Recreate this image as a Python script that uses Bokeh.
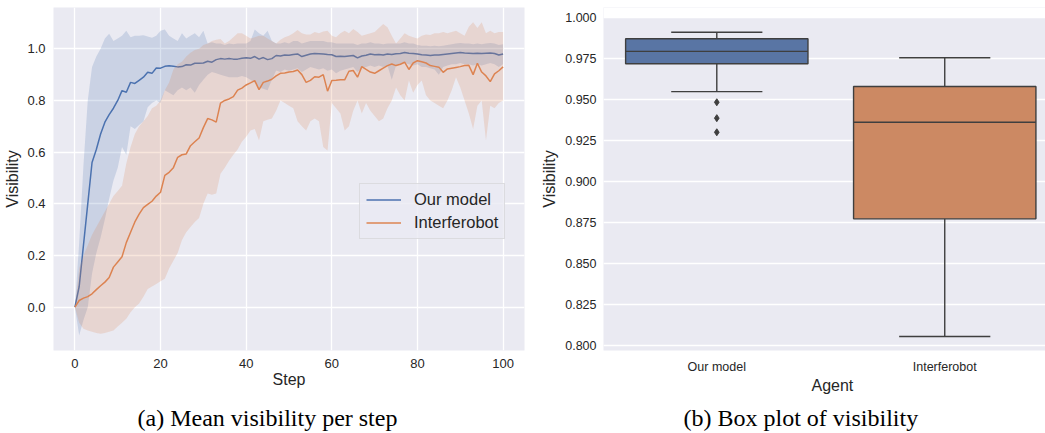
from bokeh.plotting import figure
from bokeh.models import (Range1d, FixedTicker, PrintfTickFormatter, Legend,
                          LegendItem, Title, ColumnDataSource, BoxAnnotation)
from bokeh.core.properties import value
from bokeh.layouts import row, column
from bokeh.embed import file_html
from bokeh.resources import INLINE

# ---------------- data: left panel (mean visibility per step) ----------------
steps = list(range(0, 101))

our_mean = [0.000, 0.080, 0.240, 0.400, 0.560, 0.610, 0.670, 0.716, 0.745, 0.770,
            0.800, 0.838, 0.832, 0.870, 0.866, 0.878, 0.890, 0.909, 0.905, 0.926,
            0.925, 0.932, 0.934, 0.932, 0.930, 0.931, 0.938, 0.937, 0.944, 0.944,
            0.945, 0.952, 0.948, 0.958, 0.962, 0.960, 0.962, 0.960, 0.960, 0.963,
            0.965, 0.963, 0.970, 0.960, 0.966, 0.958, 0.962, 0.974, 0.972, 0.976,
            0.975, 0.978, 0.980, 0.970, 0.975, 0.980, 0.982, 0.981, 0.980, 0.978,
            0.977, 0.970, 0.971, 0.970, 0.972, 0.974, 0.965, 0.972, 0.975, 0.980,
            0.977, 0.978, 0.976, 0.980, 0.978, 0.981, 0.982, 0.986, 0.983, 0.982,
            0.980, 0.977, 0.976, 0.974, 0.976, 0.976, 0.978, 0.980, 0.982, 0.984,
            0.986, 0.984, 0.983, 0.982, 0.983, 0.982, 0.983, 0.984, 0.982, 0.976,
            0.980]
our_upper = [0.000, 0.250, 0.550, 0.800, 0.930, 0.970, 1.000, 1.040, 1.058, 1.030,
             1.040, 1.050, 1.070, 1.045, 1.050, 1.050, 1.052, 1.048, 1.043, 1.050,
             1.070, 1.075, 1.050, 1.040, 1.030, 1.060, 1.040, 1.050, 1.060, 1.045,
             1.070, 1.020, 1.025, 1.020, 1.020, 1.015, 1.020, 1.018, 1.020, 1.020,
             1.020, 1.030, 1.075, 1.060, 1.050, 1.070, 1.030, 1.020, 1.020, 1.025,
             1.020, 1.030, 1.030, 1.020, 1.025, 1.030, 1.030, 1.030, 1.030, 1.025,
             1.025, 1.020, 1.020, 1.020, 1.020, 1.020, 1.015, 1.020, 1.020, 1.025,
             1.020, 1.020, 1.018, 1.020, 1.020, 1.020, 1.020, 1.025, 1.020, 1.020,
             1.015, 1.012, 1.012, 1.010, 1.012, 1.010, 1.012, 1.015, 1.018, 1.020,
             1.022, 1.020, 1.020, 1.018, 1.020, 1.018, 1.020, 1.022, 1.020, 1.015,
             1.018]
our_lower = [0.000, -0.110, -0.050, 0.000, 0.130, 0.210, 0.270, 0.340, 0.420, 0.490,
             0.540, 0.620, 0.590, 0.700, 0.690, 0.705, 0.720, 0.774, 0.790, 0.800,
             0.790, 0.840, 0.830, 0.820, 0.840, 0.850, 0.840, 0.850, 0.830, 0.860,
             0.880, 0.900, 0.910, 0.905, 0.900, 0.895, 0.890, 0.890, 0.890, 0.895,
             0.890, 0.880, 0.870, 0.850, 0.845, 0.840, 0.880, 0.916, 0.910, 0.920,
             0.915, 0.920, 0.925, 0.910, 0.920, 0.930, 0.925, 0.920, 0.925, 0.915,
             0.920, 0.905, 0.915, 0.920, 0.925, 0.930, 0.910, 0.925, 0.930, 0.935,
             0.930, 0.935, 0.930, 0.935, 0.880, 0.935, 0.940, 0.945, 0.940, 0.935,
             0.940, 0.930, 0.930, 0.925, 0.920, 0.900, 0.930, 0.935, 0.940, 0.940,
             0.945, 0.940, 0.940, 0.935, 0.940, 0.935, 0.940, 0.945, 0.940, 0.930,
             0.940]

int_mean = [0.000, 0.026, 0.035, 0.041, 0.052, 0.068, 0.083, 0.097, 0.115, 0.155,
            0.175, 0.195, 0.250, 0.290, 0.330, 0.360, 0.385, 0.398, 0.410, 0.430,
            0.445, 0.510, 0.522, 0.540, 0.580, 0.590, 0.593, 0.625, 0.640, 0.655,
            0.695, 0.730, 0.725, 0.716, 0.790, 0.800, 0.806, 0.815, 0.840, 0.848,
            0.860, 0.868, 0.877, 0.842, 0.870, 0.875, 0.882, 0.895, 0.905, 0.906,
            0.910, 0.912, 0.918, 0.900, 0.870, 0.878, 0.892, 0.890, 0.900, 0.836,
            0.877, 0.878, 0.880, 0.880, 0.913, 0.916, 0.890, 0.931, 0.920, 0.910,
            0.905, 0.915, 0.925, 0.935, 0.941, 0.935, 0.940, 0.948, 0.920, 0.945,
            0.954, 0.950, 0.945, 0.935, 0.932, 0.929, 0.909, 0.922, 0.925, 0.928,
            0.931, 0.935, 0.936, 0.900, 0.944, 0.910, 0.895, 0.873, 0.903, 0.915,
            0.930]
int_upper = [0.000, 0.150, 0.200, 0.240, 0.280, 0.310, 0.340, 0.370, 0.400, 0.430,
             0.450, 0.470, 0.556, 0.620, 0.670, 0.700, 0.720, 0.740, 0.770, 0.780,
             0.800, 0.840, 0.870, 0.920, 0.940, 0.950, 0.970, 0.985, 0.995, 1.000,
             1.015, 1.020, 1.030, 1.035, 1.038, 1.020, 1.030, 1.045, 1.060, 1.060,
             1.050, 1.040, 1.045, 1.050, 1.050, 1.040, 1.030, 1.020, 1.035, 1.045,
             1.050, 1.060, 1.073, 1.060, 1.055, 1.055, 1.065, 1.060, 1.067, 1.070,
             1.050, 1.045, 1.060, 1.070, 1.060, 1.077, 1.065, 1.050, 1.055, 1.060,
             1.065, 1.080, 1.096, 1.083, 1.050, 1.020, 1.040, 1.060, 1.050, 1.045,
             1.040, 1.050, 1.055, 1.053, 1.060, 1.060, 1.065, 1.060, 1.065, 1.070,
             1.060, 1.050, 1.085, 1.103, 1.080, 1.103, 1.060, 1.070, 1.060, 1.065,
             1.065]
int_lower = [0.000, -0.060, -0.083, -0.090, -0.095, -0.100, -0.103, -0.100, -0.095, -0.090,
             -0.075, -0.060, -0.045, -0.020, 0.000, 0.014, 0.040, 0.070, 0.080, 0.090,
             0.100, 0.110, 0.150, 0.180, 0.210, 0.260, 0.290, 0.310, 0.330, 0.345,
             0.400, 0.440, 0.435, 0.440, 0.516, 0.540, 0.567, 0.590, 0.610, 0.640,
             0.660, 0.684, 0.690, 0.645, 0.720, 0.725, 0.730, 0.760, 0.800, 0.790,
             0.780, 0.770, 0.720, 0.700, 0.684, 0.720, 0.730, 0.720, 0.620, 0.606,
             0.790, 0.770, 0.750, 0.684, 0.700, 0.760, 0.800, 0.750, 0.790, 0.760,
             0.740, 0.720, 0.730, 0.770, 0.800, 0.850, 0.820, 0.800, 0.877, 0.830,
             0.860, 0.877, 0.820, 0.800, 0.790, 0.780, 0.770, 0.800, 0.840, 0.890,
             0.850, 0.800, 0.750, 0.690, 0.780, 0.800, 0.645, 0.780, 0.770, 0.790,
             0.800]

left_xticks = [0, 20, 40, 60, 80, 100]
left_yticks = [0.0, 0.2, 0.4, 0.6, 0.8, 1.0]
series_names = ["Our model", "Interferobot"]

# ---------------- data: right panel (box plot) ----------------
agents = ["Our model", "Interferobot"]
box_q1 = [0.9720, 0.8774]
box_med = [0.9795, 0.9363]
box_q3 = [0.9872, 0.9581]
whisk_lo = [0.9550, 0.8057]
whisk_hi = [0.9912, 0.9756]
outliers_our = [0.9485, 0.9388, 0.9302]
right_yticks = [0.800, 0.825, 0.850, 0.875, 0.900, 0.925, 0.950, 0.975, 1.000]

captions = ["(a) Mean visibility per step", "(b) Box plot of visibility"]

# ---------------- style ----------------
BG = "#EAEAF2"
TXT = "#262626"
FONT = "Liberation Sans"
SERIF = "Liberation Serif"
BLUE = "#4C72B0"
ORANGE = "#DD8452"
BOX_COLORS = ["#5975A4", "#CC8963"]
EDGE = "#3F3F3F"

PLOT_H = 400
CAP_H = 433 - PLOT_H
FRAME_TOP = 7
FRAME_BOTTOM = 350


def style(p, tick_size, std_x, std_y):
    p.background_fill_color = BG
    p.border_fill_color = "white"
    p.outline_line_color = None
    for ax in p.axis:
        ax.axis_line_color = None
        ax.major_tick_line_color = None
        ax.minor_tick_line_color = None
        ax.major_tick_out = 0
        ax.major_tick_in = 0
        ax.minor_tick_out = 0
        ax.major_label_text_font = FONT
        ax.major_label_text_font_size = tick_size
        ax.major_label_text_color = TXT
        ax.axis_label_text_font = FONT
        ax.axis_label_text_font_size = "16px"
        ax.axis_label_text_font_style = "normal"
        ax.axis_label_text_color = TXT
    p.xaxis.major_label_standoff = std_x
    p.yaxis.major_label_standoff = std_y
    p.grid.grid_line_color = "white"
    p.grid.grid_line_width = 1.3


def xlabel_title(p, text, align, offset):
    p.add_layout(Title(text=text, align=align, offset=offset, vertical_align="top",
                       text_font=FONT, text_font_size="16px",
                       text_font_style="normal", text_color=TXT, standoff=0),
                 "below")


def caption_fig(width, bleft, bright, text, x_off):
    fw = width - bleft - bright
    c = figure(width=width, height=CAP_H, output_backend="svg", toolbar_location=None,
               x_range=Range1d(0, fw), y_range=Range1d(0, CAP_H),
               x_axis_location=None, y_axis_location=None,
               min_border_left=bleft, min_border_right=bright,
               min_border_top=0, min_border_bottom=0)
    c.outline_line_color = None
    c.grid.visible = False
    c.background_fill_color = "white"
    c.text(x=[x_off], y=[16], text=[text], text_font=value(SERIF),
           text_font_size="24px", text_color="black", text_baseline="alphabetic",
           text_align="left")
    return c


# ---------------- left figure ----------------
L_W = 538
L_LEFT, L_RIGHT = 53, 14
p1 = figure(width=L_W, height=PLOT_H, output_backend="svg", toolbar_location=None,
            x_range=Range1d(-5, 105), y_range=Range1d(-0.1676, 1.1598),
            min_border_left=L_LEFT, min_border_right=L_RIGHT,
            min_border_top=FRAME_TOP, min_border_bottom=PLOT_H - FRAME_BOTTOM)
style(p1, "13px", 8, 8)
p1.xaxis.ticker = FixedTicker(ticks=left_xticks)
p1.yaxis.ticker = FixedTicker(ticks=left_yticks)
p1.yaxis.formatter = PrintfTickFormatter(format="%.1f")
p1.yaxis.axis_label = "Visibility"
p1.yaxis.axis_label_standoff = 3

src = ColumnDataSource(dict(step=steps, bm=our_mean, bu=our_upper, bl=our_lower,
                            om=int_mean, ou=int_upper, ol=int_lower))
l1 = p1.line("step", "bm", source=src, line_color=BLUE, line_width=1.5)
p1.varea(x="step", y1="bl", y2="bu", source=src, fill_color=BLUE, fill_alpha=0.2)
l2 = p1.line("step", "om", source=src, line_color=ORANGE, line_width=1.5)
p1.varea(x="step", y1="ol", y2="ou", source=src, fill_color=ORANGE, fill_alpha=0.2)

legend = Legend(items=[LegendItem(label=series_names[0], renderers=[l1]),
                       LegendItem(label=series_names[1], renderers=[l2])],
                location=(306, 111), label_text_font=FONT,
                label_text_font_size="16.5px", label_text_color=TXT,
                glyph_width=35, glyph_height=19, label_height=19,
                label_standoff=13, spacing=4, padding=6, margin=0,
                background_fill_color=BG, background_fill_alpha=0.8,
                border_line_color="#CCCCCC", border_line_width=1)
p1.add_layout(legend)
xlabel_title(p1, "Step", "center", 0)

# ---------------- right figure ----------------
R_W = 1045 - L_W
R_LEFT, R_RIGHT = 61, 0
p2 = figure(width=R_W, height=PLOT_H, output_backend="svg", toolbar_location=None,
            x_range=Range1d(-0.497, 1.442), y_range=Range1d(0.79713, 1.00628),
            min_border_left=R_LEFT, min_border_right=R_RIGHT,
            min_border_top=FRAME_TOP, min_border_bottom=PLOT_H - FRAME_BOTTOM)
style(p2, "12.5px", 9, 7)
p2.xgrid.visible = False
xs = list(range(len(agents)))
p2.xaxis.ticker = FixedTicker(ticks=xs)
p2.xaxis.major_label_overrides = {i: a for i, a in enumerate(agents)}
p2.yaxis.ticker = FixedTicker(ticks=right_yticks)
p2.yaxis.formatter = PrintfTickFormatter(format="%.3f")
p2.yaxis.axis_label = "Visibility"
p2.yaxis.axis_label_standoff = 4
# white strip above the 1.000 limit (the reference axes start lower)
p2.add_layout(BoxAnnotation(bottom=right_yticks[-1] + 0.0003, fill_color="white",
                            fill_alpha=1.0, line_color=None))

bsrc = ColumnDataSource(dict(
    x=xs, q1=box_q1, med=box_med, q3=box_q3, lo=whisk_lo, hi=whisk_hi,
    color=BOX_COLORS,
    cl=[x - 0.2 for x in xs], cr=[x + 0.2 for x in xs],
    bl=[x - 0.4 for x in xs], br=[x + 0.4 for x in xs]))
p2.segment(x0="x", y0="q3", x1="x", y1="hi", source=bsrc, line_color=EDGE, line_width=1.4)
p2.segment(x0="x", y0="q1", x1="x", y1="lo", source=bsrc, line_color=EDGE, line_width=1.4)
p2.segment(x0="cl", y0="hi", x1="cr", y1="hi", source=bsrc, line_color=EDGE, line_width=1.4)
p2.segment(x0="cl", y0="lo", x1="cr", y1="lo", source=bsrc, line_color=EDGE, line_width=1.4)
p2.vbar(x="x", width=0.8, bottom="q1", top="q3", source=bsrc, fill_color="color",
        line_color=EDGE, line_width=1.4)
p2.segment(x0="bl", y0="med", x1="br", y1="med", source=bsrc, line_color=EDGE, line_width=1.4)
p2.scatter(x=[xs[0]] * len(outliers_our), y=outliers_our, marker="diamond", size=7,
           fill_color=EDGE, line_color=EDGE)
xlabel_title(p2, "Agent", "left", 208)

# ---------------- captions ----------------
c1 = caption_fig(L_W, L_LEFT, L_RIGHT, captions[0], 84)
c2 = caption_fig(R_W, R_LEFT, R_RIGHT, captions[1], 84)

layout = column(row(p1, p2), row(c1, c2))
open("out.html", "w").write(file_html(layout, INLINE))
